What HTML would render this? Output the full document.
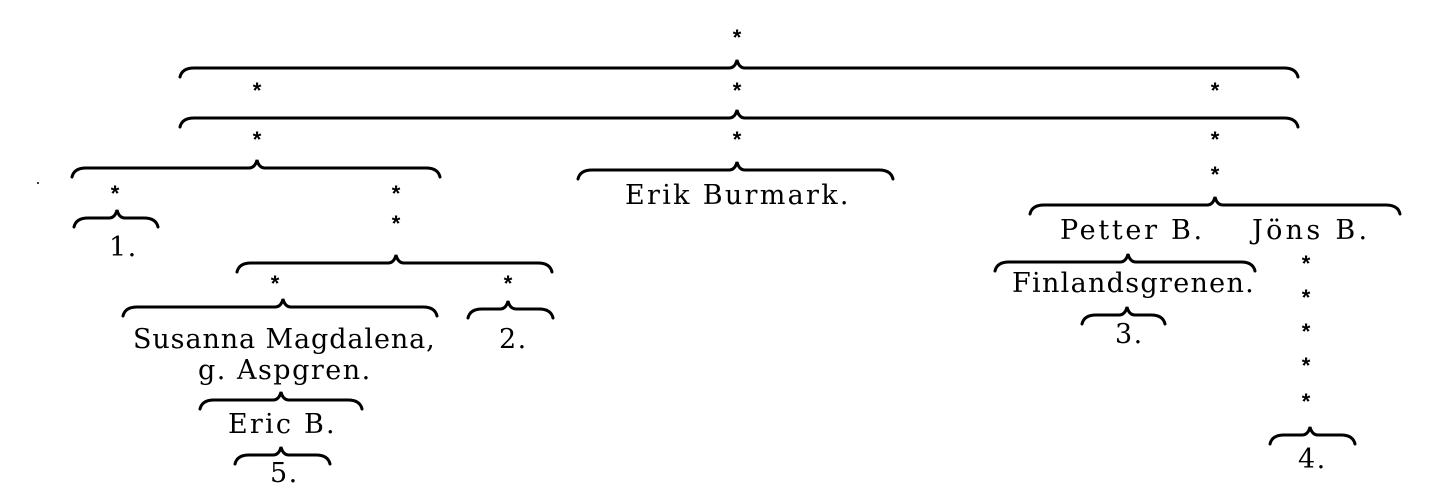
<!DOCTYPE html>
<html><head><style>
html,body{margin:0;padding:0;background:#fff;}
body{position:relative;width:1455px;height:496px;overflow:hidden;}
svg{display:block;position:absolute;left:0;top:0;}
path{fill:none;stroke:#000;stroke-width:3;stroke-linecap:round;}
.t{position:absolute;font-family:"DejaVu Serif","Liberation Serif",serif;font-size:27px;line-height:30px;color:#000;white-space:nowrap;letter-spacing:1.5px;}
.s{position:absolute;font-family:"Liberation Sans",sans-serif;font-size:22px;line-height:22px;font-weight:bold;width:20px;text-align:center;color:#000;}
</style></head><body>
<svg width="1455" height="496" viewBox="0 0 1455 496">
<path d="M180 77 Q182 68 194 68 L729 68 Q735 68 737 60 Q739 68 745 68 L1284 68 Q1296 68 1298 77"/>
<path d="M180 127 Q182 118 194 118 L729 118 Q735 118 737 110 Q739 118 745 118 L1284 118 Q1296 118 1298 127"/>
<path d="M72 177 Q74 168 86 168 L249 168 Q255 168 257 160 Q259 168 265 168 L426 168 Q438 168 440 177"/>
<path d="M578 179 Q580 170 592 170 L729 170 Q735 170 737 162 Q739 170 745 170 L879 170 Q891 170 893 179"/>
<path d="M74 227 Q76 218 88 218 L109 218 Q115 218 117 210 Q119 218 125 218 L144 218 Q156 218 158 227"/>
<path d="M237 272 Q239 263 251 263 L388 263 Q394 263 396 255 Q398 263 404 263 L538 263 Q550 263 552 272"/>
<path d="M123 316 Q125 307 137 307 L275 307 Q281 307 283 299 Q285 307 291 307 L423 307 Q435 307 437 316"/>
<path d="M468 318 Q470 309 482 309 L500 309 Q506 309 508 301 Q510 309 516 309 L539 309 Q551 309 553 318"/>
<path d="M200 409 Q202 400 214 400 L273 400 Q279 400 281 392 Q283 400 289 400 L348 400 Q360 400 362 409"/>
<path d="M235 464 Q237 455 249 455 L273 455 Q279 455 281 447 Q283 455 289 455 L316 455 Q328 455 330 464"/>
<path d="M1030 214 Q1032 205 1044 205 L1207 205 Q1213 205 1215 197 Q1217 205 1223 205 L1386 205 Q1398 205 1400 214"/>
<path d="M995 271 Q997 262 1009 262 L1120 262 Q1126 262 1128 254 Q1130 262 1136 262 L1241 262 Q1253 262 1255 271"/>
<path d="M1082 324 Q1084 315 1096 315 L1119 315 Q1125 315 1127 307 Q1129 315 1135 315 L1151 315 Q1163 315 1165 324"/>
<path d="M1270 444 Q1272 435 1284 435 L1302 435 Q1308 435 1310 427 Q1312 435 1318 435 L1341 435 Q1353 435 1355 444"/>
<circle cx="38" cy="183" r="1" fill="#000"/>
</svg>
<div class="s" style="left:727px;top:27px">*</div>
<div class="s" style="left:247px;top:80px">*</div>
<div class="s" style="left:727px;top:80px">*</div>
<div class="s" style="left:1205px;top:80px">*</div>
<div class="s" style="left:247px;top:129px">*</div>
<div class="s" style="left:727px;top:129px">*</div>
<div class="s" style="left:1205px;top:129px">*</div>
<div class="s" style="left:1205px;top:164px">*</div>
<div class="s" style="left:105px;top:183px">*</div>
<div class="s" style="left:386px;top:183px">*</div>
<div class="s" style="left:386px;top:213px">*</div>
<div class="s" style="left:265px;top:273px">*</div>
<div class="s" style="left:498px;top:273px">*</div>
<div class="s" style="left:1296px;top:253px">*</div>
<div class="s" style="left:1296px;top:287px">*</div>
<div class="s" style="left:1296px;top:321px">*</div>
<div class="s" style="left:1296px;top:355px">*</div>
<div class="s" style="left:1296px;top:391px">*</div>

<div class="t" style="left:625px;top:181px;letter-spacing:2.3px">Erik Burmark.</div>
<div class="t" style="left:109px;top:233px">1.</div>
<div class="t" style="left:133px;top:325px;letter-spacing:0.9px">Susanna Magdalena,</div>
<div class="t" style="left:198px;top:356px">g. Aspgren.</div>
<div class="t" style="left:228px;top:410px;letter-spacing:2.2px">Eric B.</div>
<div class="t" style="left:270px;top:459px">5.</div>
<div class="t" style="left:499px;top:325px">2.</div>
<div class="t" style="left:1060px;top:216px;letter-spacing:2.7px">Petter B.</div>
<div class="t" style="left:1252px;top:216px;letter-spacing:3.3px">Jöns B.</div>
<div class="t" style="left:1012px;top:269px;letter-spacing:1.3px">Finlandsgrenen.</div>
<div class="t" style="left:1115px;top:320px">3.</div>
<div class="t" style="left:1298px;top:445px">4.</div>
</body></html>
